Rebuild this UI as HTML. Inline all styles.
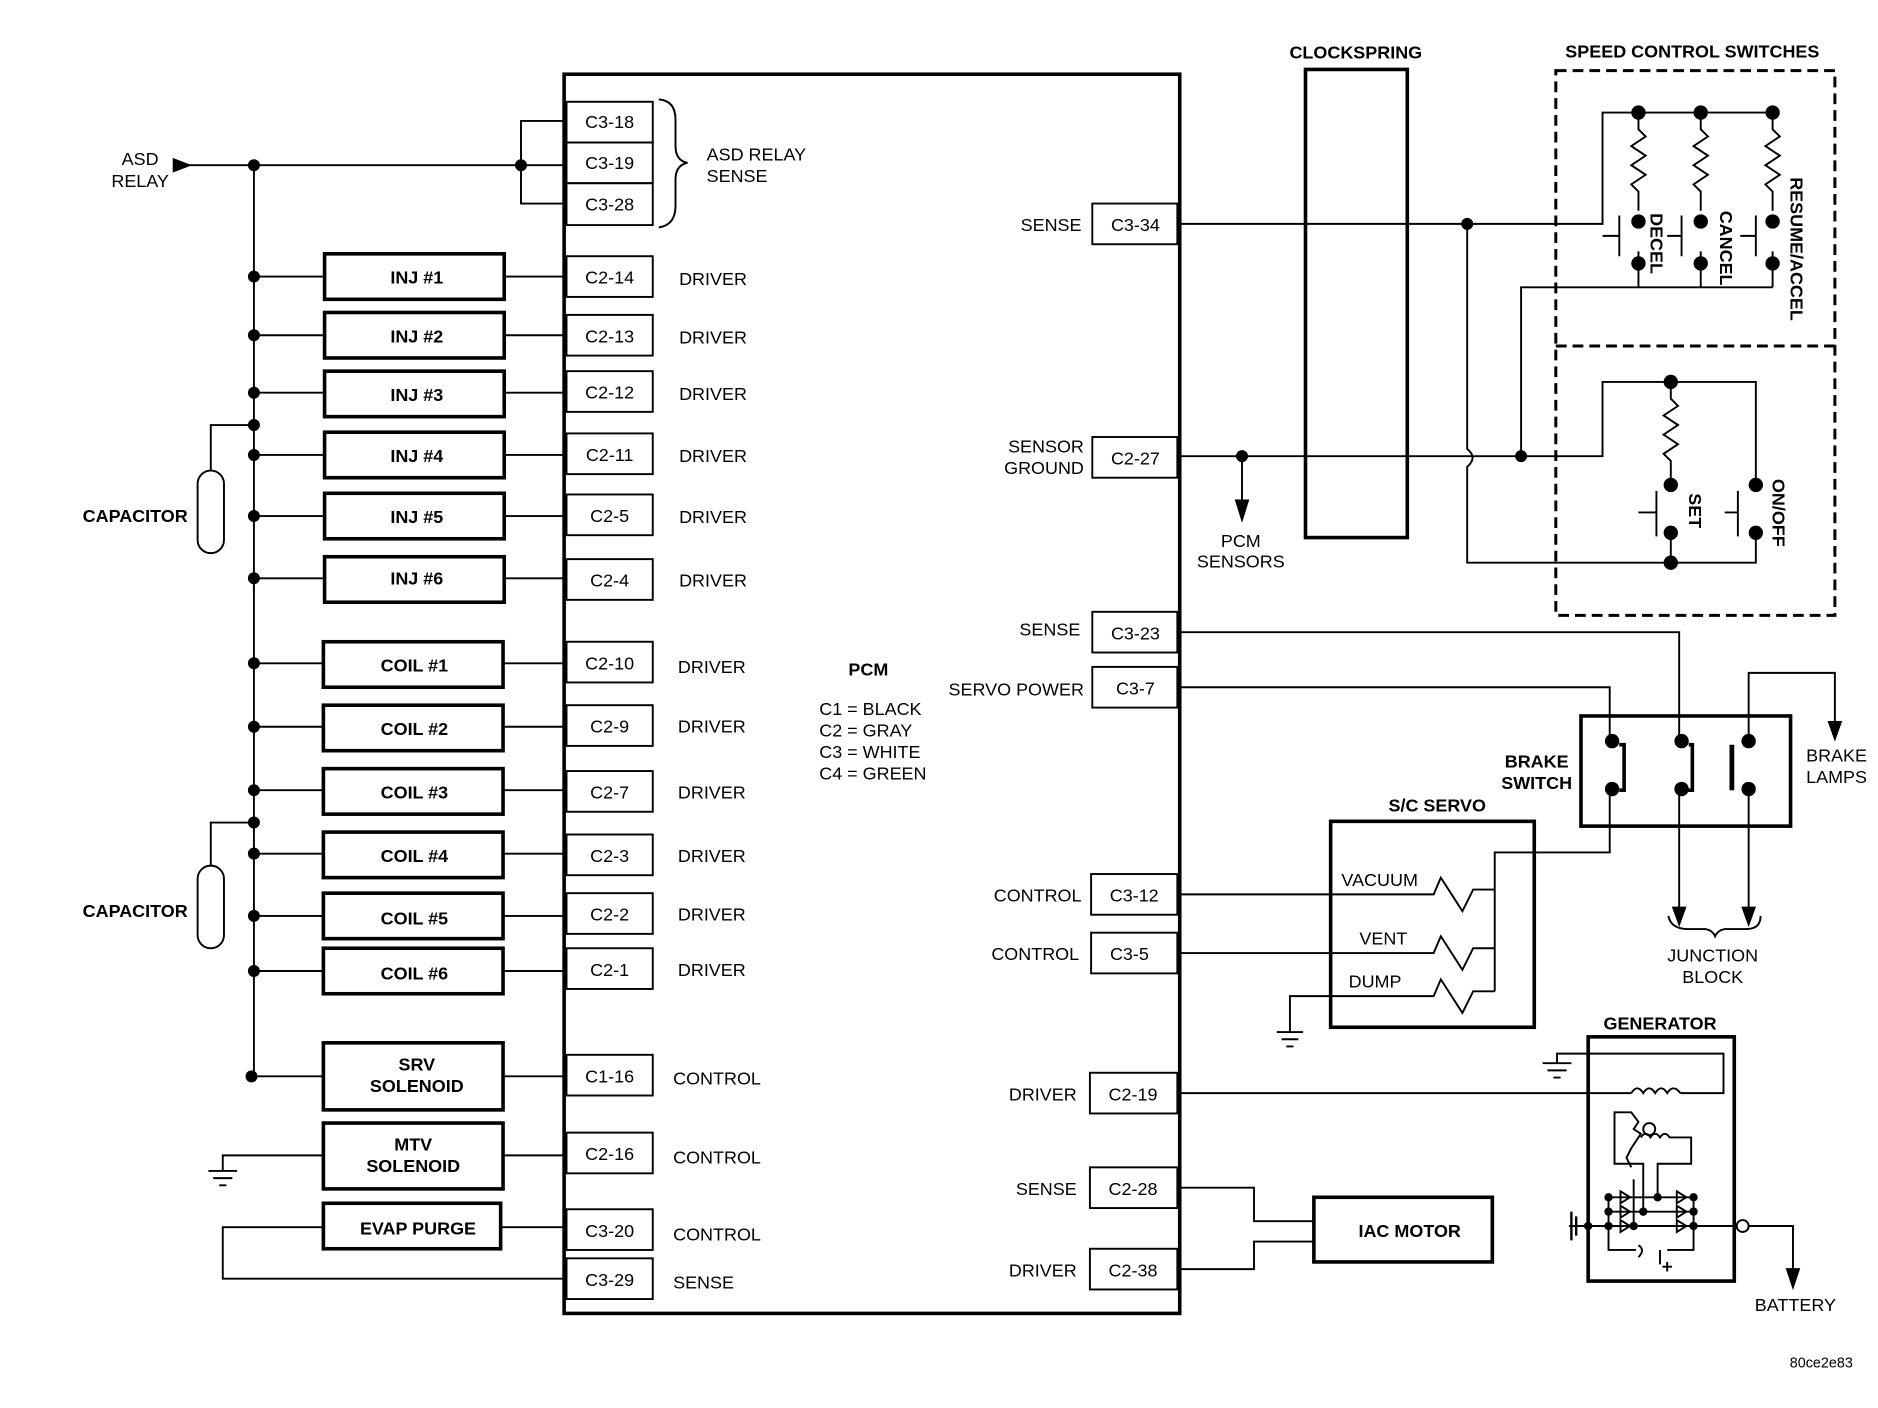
<!DOCTYPE html>
<html><head><meta charset="utf-8">
<style>
html,body{margin:0;padding:0;background:#fff;}
svg{display:block;}
text{font-family:"Liberation Sans",Arial,sans-serif;fill:#000;}
.b{font-weight:bold;font-size:15px;}
.n{font-size:15px;}
.p{font-size:15px;text-anchor:middle;}
.c{text-anchor:middle;}
.e{text-anchor:end;}
</style></head>
<body>
<svg width="1878" height="1408" viewBox="0 0 1568 1176" preserveAspectRatio="none" xmlns="http://www.w3.org/2000/svg">
<rect width="1568" height="1176" fill="#fff"/>
<g stroke="#000" fill="none" stroke-width="1.6">
<rect x="471" y="62" width="514" height="1035" stroke-width="3"/>
<rect x="473" y="85" width="72" height="34"/>
<rect x="473" y="119" width="72" height="34"/>
<rect x="473" y="153" width="72" height="35"/>
<rect x="473" y="214" width="72" height="34"/>
<rect x="473" y="263" width="72" height="34"/>
<rect x="473" y="310" width="72" height="34"/>
<rect x="473" y="362" width="72" height="34"/>
<rect x="473" y="413" width="72" height="34"/>
<rect x="473" y="467" width="72" height="34"/>
<rect x="473" y="536" width="72" height="34"/>
<rect x="473" y="589" width="72" height="34"/>
<rect x="473" y="644" width="72" height="34"/>
<rect x="473" y="697" width="72" height="34"/>
<rect x="473" y="746" width="72" height="34"/>
<rect x="473" y="792" width="72" height="34"/>
<rect x="473" y="881" width="72" height="34"/>
<rect x="473" y="946" width="72" height="34"/>
<rect x="473" y="1010" width="72" height="34"/>
<rect x="473" y="1051" width="72" height="34"/>
<path d="M550 83 Q564 84 564 100 L564 122 Q564 134 574 136 Q564 138 564 150 L564 172 Q564 188 550 190"/>
<path d="M155 138 L471 138"/>
<path d="M145 133 L158 138 L145 143 Z" fill="#000"/>
<path d="M471 101 L435 101 L435 170 L471 170"/>
<path d="M212 138 L212 900"/>
<g stroke-width="3">
<rect x="271" y="212" width="150" height="38"/>
<rect x="271" y="261" width="150" height="38"/>
<rect x="271" y="310" width="150" height="38"/>
<rect x="271" y="361" width="150" height="38"/>
<rect x="271" y="412" width="150" height="38"/>
<rect x="271" y="465" width="150" height="38"/>
<rect x="270" y="536" width="150" height="38"/>
<rect x="270" y="589" width="150" height="38"/>
<rect x="270" y="642" width="150" height="38"/>
<rect x="270" y="695" width="150" height="38"/>
<rect x="270" y="746" width="150" height="38"/>
<rect x="270" y="792" width="150" height="38"/>
<rect x="270" y="871" width="150" height="56"/>
<rect x="270" y="938" width="150" height="55"/>
<rect x="270" y="1005" width="148" height="38"/>
</g>
<path d="M212 231 H271 M421 231 H473 M212 280 H271 M421 280 H473 M212 328 H271 M421 328 H473 M212 380 H271 M421 380 H473 M212 431 H271 M421 431 H473 M212 483 H271 M421 483 H473
M212 554 H270 M420 554 H473 M212 607 H270 M420 607 H473 M212 660 H270 M420 660 H473 M212 713 H270 M420 713 H473 M212 765 H270 M420 765 H473 M212 811 H270 M420 811 H473
M212 899 H270 M420 899 H473 M420 965 H473 M418 1025 H473"/>
<rect x="165" y="393" width="22" height="69" rx="11"/>
<path d="M176 393 L176 355 L212 355"/>
<rect x="165" y="723" width="22" height="69" rx="11"/>
<path d="M176 723 L176 687 L212 687"/>
<path d="M270 965 L186 965 L186 978 M174 978 H198 M178 984 H194 M183 990 H189" />
<path d="M270 1025 L186 1025 L186 1068 L473 1068"/>
<rect x="912" y="170" width="71" height="34"/>
<rect x="912" y="365" width="71" height="34"/>
<rect x="912" y="511" width="71" height="34"/>
<rect x="912" y="557" width="71" height="34"/>
<rect x="911" y="730" width="72" height="34"/>
<rect x="911" y="779" width="72" height="34"/>
<rect x="910" y="896" width="73" height="34"/>
<rect x="910" y="975" width="73" height="34"/>
<rect x="910" y="1043" width="73" height="34"/>
<rect x="1090" y="58" width="85" height="391" stroke-width="3"/>
<g stroke-width="2.5" stroke-dasharray="9,5">
<rect x="1299" y="59" width="233" height="455"/>
<path d="M1299 289 H1532"/>
</g>
<path d="M983 187 H1338 V94 H1480"/>
<path d="M1225 187 V375 Q1234 382 1225 390 V470 H1395"/>
<path d="M1368 94 V108 l6 6 l-12 8 l12 8 l-12 8 l12 8 l-12 8 l6 6 V176 M1368 210 V240"/>
<path d="M1420 94 V108 l6 6 l-12 8 l12 8 l-12 8 l12 8 l-12 8 l6 6 V176 M1420 210 V240"/>
<path d="M1480 94 V108 l6 6 l-12 8 l12 8 l-12 8 l12 8 l-12 8 l6 6 V176 M1480 210 V240"/>
<path d="M1270 382 V240 H1480"/>
<path d="M1352 180 V214 M1338 197 H1352 M1404 180 V214 M1392 197 H1404 M1466 180 V214 M1453 197 H1466"/>
<path d="M983 381 H1338 V319 H1466 V405 M1466 445 V470 H1395"/>
<path d="M1395 319 V333 l6 6 l-12 8 l12 8 l-12 8 l12 8 l-12 8 l6 6 V405 M1395 445 V470"/>
<path d="M1383 410 V448 M1368 428 H1383 M1451 410 V448 M1440 428 H1451"/>
<path d="M1037 381 V420"/>
<path d="M1032 418 L1037 434 L1042 418 Z" fill="#000"/>
<rect x="1320" y="598" width="175" height="92" stroke-width="3"/>
<path d="M983 528 H1402 V618"/>
<path d="M983 574 H1344 V618"/>
<path d="M1344 658 V712 H1248 V828"/>
<path d="M1402 658 V760 M1460 658 V760 M1460 618 V562 H1532 V605"/>
<path d="M1352 622 H1356 V660 H1352" stroke-width="3"/>
<path d="M1410 622 H1413 V660 L1404 660" stroke-width="3"/>
<path d="M1446 622 V660" stroke-width="4"/>
<path d="M1397 758 L1402 772 L1407 758 Z M1455 758 L1460 772 L1465 758 Z M1527 603 L1532 617 L1537 603 Z" fill="#000"/>
<path d="M1393 765 Q1395 776 1410 776 L1424 776 Q1430 777 1432 782 Q1434 777 1440 776 L1458 776 Q1470 776 1470 765"/>
<rect x="1111" y="686" width="170" height="172" stroke-width="3"/>
<path d="M983 747 H1197 L1203 733 L1221 761 L1230 743 H1248"/>
<path d="M983 796 H1197 L1203 782 L1221 810 L1230 792 H1248"/>
<path d="M1077 862 V832 H1197 L1203 818 L1221 846 L1230 828 H1248"/>
<path d="M1066 862 H1088 M1070 868 H1084 M1074 874 H1080"/>
<rect x="1097" y="1000" width="149" height="54" stroke-width="3"/>
<path d="M983 992 H1047 V1020 H1097 M983 1060 H1047 V1037 H1097"/>
<rect x="1326" y="866" width="122" height="204" stroke-width="3"/>
<path d="M983 913 H1362 M1403 913 H1439 V880 H1300 V888"/>
<path d="M1362 913 q5 -8 10 0 q5 -8 10 0 q5 -8 10 0 q5 -8 11 0"/>
<path d="M1288 888 H1312 M1292 894 H1308 M1297 900 H1303"/>
<path d="M1348 952 V929 H1362 l6 8 l-4 6 l6 4 l-4 6 l-4 6 l-4 8 l4 8 M1370 950 q4 -6 8 0 q4 -6 8 0 q4 -6 8 0 H1412 V972 H1384 V1000 M1348 952 V972 H1372 V1012 M1364 1024 V985"/>
<circle cx="1377" cy="943" r="5"/>
<path d="M1310 1024 H1453 M1343 1000 H1414 M1343 1012 H1414 M1343 1000 V1024 M1414 1000 V1024 M1343 1024 V1044 H1366 M1414 1024 V1044 H1392"/>
<path d="M1312 1012 V1036 M1316 1016 V1032" stroke-width="2"/>
<path d="M1368 1040 q6 4 0 10 M1386 1044 V1056 M1392 1054 V1062 M1388 1058 H1396"/>
<circle cx="1455" cy="1024" r="5" fill="#fff"/>
<path d="M1460 1024 H1497 V1062"/>
<path d="M1492 1060 L1497 1075 L1502 1060 Z" fill="#000"/>
<path d="M1353 995 l8 5 l-8 5 Z M1353 1007 l8 5 l-8 5 Z M1353 1019 l8 5 l-8 5 Z M1400 995 l8 5 l-8 5 Z M1400 1007 l8 5 l-8 5 Z M1400 1019 l8 5 l-8 5 Z"/>
</g>
<g fill="#000">
<circle cx="212" cy="138" r="5"/><circle cx="435" cy="138" r="5"/>
<circle cx="212" cy="231" r="5"/><circle cx="212" cy="280" r="5"/><circle cx="212" cy="328" r="5"/>
<circle cx="212" cy="355" r="5"/><circle cx="212" cy="380" r="5"/><circle cx="212" cy="431" r="5"/>
<circle cx="212" cy="483" r="5"/><circle cx="212" cy="554" r="5"/><circle cx="212" cy="607" r="5"/>
<circle cx="212" cy="660" r="5"/><circle cx="212" cy="687" r="5"/><circle cx="212" cy="713" r="5"/>
<circle cx="212" cy="765" r="5"/><circle cx="212" cy="811" r="5"/><circle cx="210" cy="899" r="5"/>
<circle cx="1225" cy="187" r="5"/><circle cx="1037" cy="381" r="5"/><circle cx="1270" cy="381" r="5"/>
<circle cx="1368" cy="94" r="6"/><circle cx="1420" cy="94" r="6"/><circle cx="1480" cy="94" r="6"/>
<circle cx="1368" cy="185" r="6"/><circle cx="1420" cy="185" r="6"/><circle cx="1480" cy="185" r="6"/>
<circle cx="1368" cy="220" r="6"/><circle cx="1420" cy="220" r="6"/><circle cx="1480" cy="220" r="6"/>
<circle cx="1395" cy="319" r="6"/><circle cx="1395" cy="405" r="6"/><circle cx="1395" cy="445" r="6"/><circle cx="1395" cy="470" r="6"/>
<circle cx="1466" cy="405" r="6"/><circle cx="1466" cy="445" r="6"/>
<circle cx="1346" cy="619" r="6"/><circle cx="1346" cy="659" r="6"/>
<circle cx="1404" cy="619" r="6"/><circle cx="1404" cy="659" r="6"/>
<circle cx="1460" cy="619" r="6"/><circle cx="1460" cy="659" r="6"/>
<circle cx="1343" cy="1000" r="3.5"/><circle cx="1343" cy="1012" r="3.5"/><circle cx="1343" cy="1024" r="3.5"/>
<circle cx="1414" cy="1000" r="3.5"/><circle cx="1414" cy="1012" r="3.5"/><circle cx="1414" cy="1024" r="3.5"/>
<circle cx="1384" cy="1000" r="3.5"/><circle cx="1372" cy="1012" r="3.5"/><circle cx="1364" cy="1024" r="3.5"/><circle cx="1326" cy="1024" r="3.5"/>
</g>
<g class="n">
<text x="117" y="138" class="c">ASD</text><text x="117" y="156" class="c">RELAY</text>
<text x="590" y="134">ASD RELAY</text><text x="590" y="152">SENSE</text>
</g>
<g class="p">
<text x="509" y="107">C3-18</text><text x="509" y="141">C3-19</text><text x="509" y="176">C3-28</text>
<text x="509" y="237">C2-14</text><text x="509" y="286">C2-13</text><text x="509" y="333">C2-12</text>
<text x="509" y="385">C2-11</text><text x="509" y="436">C2-5</text><text x="509" y="490">C2-4</text>
<text x="509" y="559">C2-10</text><text x="509" y="612">C2-9</text><text x="509" y="667">C2-7</text>
<text x="509" y="720">C2-3</text><text x="509" y="769">C2-2</text><text x="509" y="815">C2-1</text>
<text x="509" y="904">C1-16</text><text x="509" y="969">C2-16</text><text x="509" y="1033">C3-20</text><text x="509" y="1074">C3-29</text>
<text x="948" y="193">C3-34</text><text x="948" y="388">C2-27</text><text x="948" y="534">C3-23</text>
<text x="948" y="580">C3-7</text><text x="947" y="753">C3-12</text><text x="943" y="802">C3-5</text>
<text x="946" y="919">C2-19</text><text x="946" y="998">C2-28</text><text x="946" y="1066">C2-38</text>
</g>
<g class="n">
<text x="567" y="238">DRIVER</text><text x="567" y="287">DRIVER</text><text x="567" y="334">DRIVER</text>
<text x="567" y="386">DRIVER</text><text x="567" y="437">DRIVER</text><text x="567" y="490">DRIVER</text>
<text x="566" y="562">DRIVER</text><text x="566" y="612">DRIVER</text><text x="566" y="667">DRIVER</text>
<text x="566" y="720">DRIVER</text><text x="566" y="769">DRIVER</text><text x="566" y="815">DRIVER</text>
<text x="562" y="906">CONTROL</text><text x="562" y="972">CONTROL</text><text x="562" y="1036">CONTROL</text><text x="562" y="1076">SENSE</text>
<text x="903" y="193" class="e">SENSE</text>
<text x="905" y="378" class="e">SENSOR</text><text x="905" y="396" class="e">GROUND</text>
<text x="902" y="531" class="e">SENSE</text><text x="905" y="581" class="e">SERVO POWER</text>
<text x="903" y="753" class="e">CONTROL</text><text x="901" y="802" class="e">CONTROL</text>
<text x="899" y="919" class="e">DRIVER</text><text x="899" y="998" class="e">SENSE</text><text x="899" y="1066" class="e">DRIVER</text>
<text x="684" y="597">C1 = BLACK</text><text x="684" y="615">C2 = GRAY</text><text x="684" y="633">C3 = WHITE</text><text x="684" y="651">C4 = GREEN</text>
<text x="1036" y="457" class="c">PCM</text><text x="1036" y="474" class="c">SENSORS</text>
<text x="1120" y="740">VACUUM</text><text x="1135" y="789">VENT</text><text x="1126" y="825">DUMP</text>
<text x="1430" y="803" class="c">JUNCTION</text><text x="1430" y="821" class="c">BLOCK</text>
<text x="1508" y="636">BRAKE</text><text x="1508" y="654">LAMPS</text>
<text x="1499" y="1095" class="c">BATTERY</text>
<text x="1547" y="1142" class="e" style="font-size:12px">80ce2e83</text>
</g>
<g class="b">
<text x="348" y="237" class="c">INJ #1</text><text x="348" y="286" class="c">INJ #2</text><text x="348" y="335" class="c">INJ #3</text>
<text x="348" y="386" class="c">INJ #4</text><text x="348" y="437" class="c">INJ #5</text><text x="348" y="488" class="c">INJ #6</text>
<text x="346" y="561" class="c">COIL #1</text><text x="346" y="614" class="c">COIL #2</text><text x="346" y="667" class="c">COIL #3</text>
<text x="346" y="720" class="c">COIL #4</text><text x="346" y="772" class="c">COIL #5</text><text x="346" y="818" class="c">COIL #6</text>
<text x="348" y="894" class="c">SRV</text><text x="348" y="912" class="c">SOLENOID</text>
<text x="345" y="961" class="c">MTV</text><text x="345" y="979" class="c">SOLENOID</text>
<text x="349" y="1031" class="c">EVAP PURGE</text>
<text x="1177" y="1033" class="c">IAC MOTOR</text>
<text x="69" y="436">CAPACITOR</text><text x="69" y="766">CAPACITOR</text>
<text x="725" y="564" class="c">PCM</text>
<text x="1132" y="49" class="c">CLOCKSPRING</text>
<text x="1413" y="48" class="c">SPEED CONTROL SWITCHES</text>
<text x="1283" y="641" class="c">BRAKE</text><text x="1283" y="659" class="c">SWITCH</text>
<text x="1200" y="678" class="c">S/C SERVO</text>
<text x="1386" y="860" class="c">GENERATOR</text>
<text transform="translate(1378,178) rotate(90)">DECEL</text>
<text transform="translate(1436,176) rotate(90)">CANCEL</text>
<text transform="translate(1495,148) rotate(90)">RESUME/ACCEL</text>
<text transform="translate(1410,412) rotate(90)">SET</text>
<text transform="translate(1480,400) rotate(90)">ON/OFF</text>
</g>
</svg>
</body></html>
